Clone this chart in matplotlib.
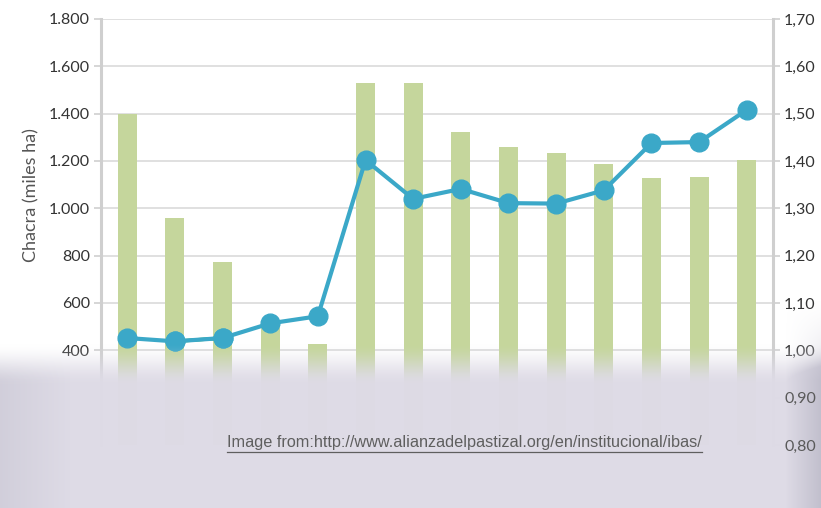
import numpy as np
import matplotlib
matplotlib.use('Agg')
import matplotlib.pyplot as plt
from matplotlib.ticker import FuncFormatter
from matplotlib.lines import Line2D

# --- data ---
positions = list(range(14))
chacra_area = [1400, 960, 775, 515, 425, 1530, 1530, 1322, 1260, 1235, 1187, 1128, 1133, 1203]
ratio_values = [1.026, 1.019, 1.026, 1.057, 1.072, 1.402, 1.320, 1.341, 1.311, 1.310, 1.338, 1.438, 1.440, 1.508]
left_ticks = [400, 600, 800, 1000, 1200, 1400, 1600, 1800]
right_ticks = [0.80, 0.90, 1.00, 1.10, 1.20, 1.30, 1.40, 1.50, 1.60, 1.70]
source_note = 'Image from:http://www.alianzadelpastizal.org/en/institucional/ibas/'

BAR_COLOR = '#c5d69c'
LINE_COLOR = '#3ba8c8'
GRID_COLOR = '#dadada'
SPINE_COLOR = '#cfcfcf'
TEXT_COLOR = '#333333'

plt.rcParams['font.family'] = ['Lato', 'DejaVu Sans']

W, H = 821, 508
fig = plt.figure(figsize=(W / 100, H / 100), dpi=100)
left, right, top, bottom = 101, 773, 19, 445
ax = fig.add_axes([left / W, 1 - bottom / H, (right - left) / W, (bottom - top) / H])

ax.bar(positions, chacra_area, width=0.4, color=BAR_COLOR, zorder=2)
ax.set_xlim(-0.55, 13.55)
ax.set_ylim(0, 1800)
ax.set_yticks(left_ticks)
ax.yaxis.set_major_formatter(FuncFormatter(lambda v, p: f'{int(v):,}'.replace(',', '.')))
ax.set_xticks([])
ax.grid(axis='y', color=GRID_COLOR, linewidth=1.2, zorder=0)
ax.set_axisbelow(True)
for s in ['top', 'bottom', 'right']:
    ax.spines[s].set_visible(False)
ax.spines['left'].set_color(SPINE_COLOR)
ax.spines['left'].set_linewidth(2.2)
ax.tick_params(axis='y', colors=SPINE_COLOR, length=5, width=1.2, labelcolor=TEXT_COLOR, labelsize=11.5, pad=3)
ax.set_ylabel('Chacra (miles ha)', color='#555555', fontsize=13)
ax.yaxis.set_label_coords(-0.092, 0.587)

ax2 = ax.twinx()
ax2.set_ylim(0.80, 1.70)
ax2.plot(positions, ratio_values, color=LINE_COLOR, linewidth=3, marker='o',
         markersize=13.5, zorder=3)
# short green segment between the 2nd and 3rd point
ax2.plot(positions[1:3], ratio_values[1:3], color='#1aab3c', linewidth=2.5, zorder=2.5)
ax2.plot(positions[1:3], ratio_values[1:3], linestyle='none', marker='o', color=LINE_COLOR,
         markersize=13.5, zorder=4)
ax2.set_yticks(right_ticks)
ax2.yaxis.set_major_formatter(FuncFormatter(lambda v, p: f'{v:.2f}'.replace('.', ',')))
for s in ['top', 'bottom', 'left']:
    ax2.spines[s].set_visible(False)
ax2.spines['right'].set_color(SPINE_COLOR)
ax2.spines['right'].set_linewidth(2.2)
ax2.tick_params(axis='y', colors=SPINE_COLOR, length=5, width=1.2, labelcolor=TEXT_COLOR, labelsize=11.5, pad=3)
ax2.set_xticks([])

# faded overlay at the bottom of the screenshot
yy, xx = np.mgrid[0:H, 0:W]
t = np.clip((yy - 342) / 42.0, 0, 1)
alpha = 0.985 * t * t * (3 - 2 * t)
edge = np.clip((xx - 785) / 36.0, 0, 1) * np.clip((yy - 300) / 80.0, 0, 1)
ledge = np.clip((70 - xx) / 70.0, 0, 1) * np.clip((yy - 320) / 60.0, 0, 1)
rgba = np.zeros((H, W, 4))
base = np.array([222, 219, 230]) / 255.0
dark = np.array([190, 188, 202]) / 255.0
mix = np.clip(edge * 0.9 + ledge * 0.4, 0, 1)[..., None]
rgba[..., :3] = base * (1 - mix) + dark * mix
rgba[..., 3] = np.clip(alpha + 0.5 * edge, 0, 1)
ov = fig.add_axes([0, 0, 1, 1], zorder=5)
ov.imshow(rgba, aspect='auto', interpolation='bilinear')
ov.axis('off')

# right labels that show through the overlay
ax3 = fig.add_axes(ax.get_position(), zorder=6, frameon=False)
ax3.set_xticks([])
ax3.set_ylim(0.80, 1.70)
ax3.yaxis.tick_right()
ax3.set_yticks([0.80, 0.90])
ax3.yaxis.set_major_formatter(FuncFormatter(lambda v, p: f'{v:.2f}'.replace('.', ',')))
ax3.tick_params(axis='y', length=0, labelcolor='#5a5a5a', labelsize=11.5, pad=8)

note = fig.text(227 / W, 1 - 443 / H, source_note, fontsize=11.7, color='#5f5f5f',
                family='Liberation Sans', va='center', ha='left', zorder=10)
fig.canvas.draw()
bb = note.get_window_extent()
fig.add_artist(Line2D([bb.x0 / W, bb.x1 / W], [(bb.y0 - 1) / H, (bb.y0 - 1) / H],
                      color='#5f5f5f', linewidth=0.9, zorder=10))

fig.savefig('out.png', dpi=100)
